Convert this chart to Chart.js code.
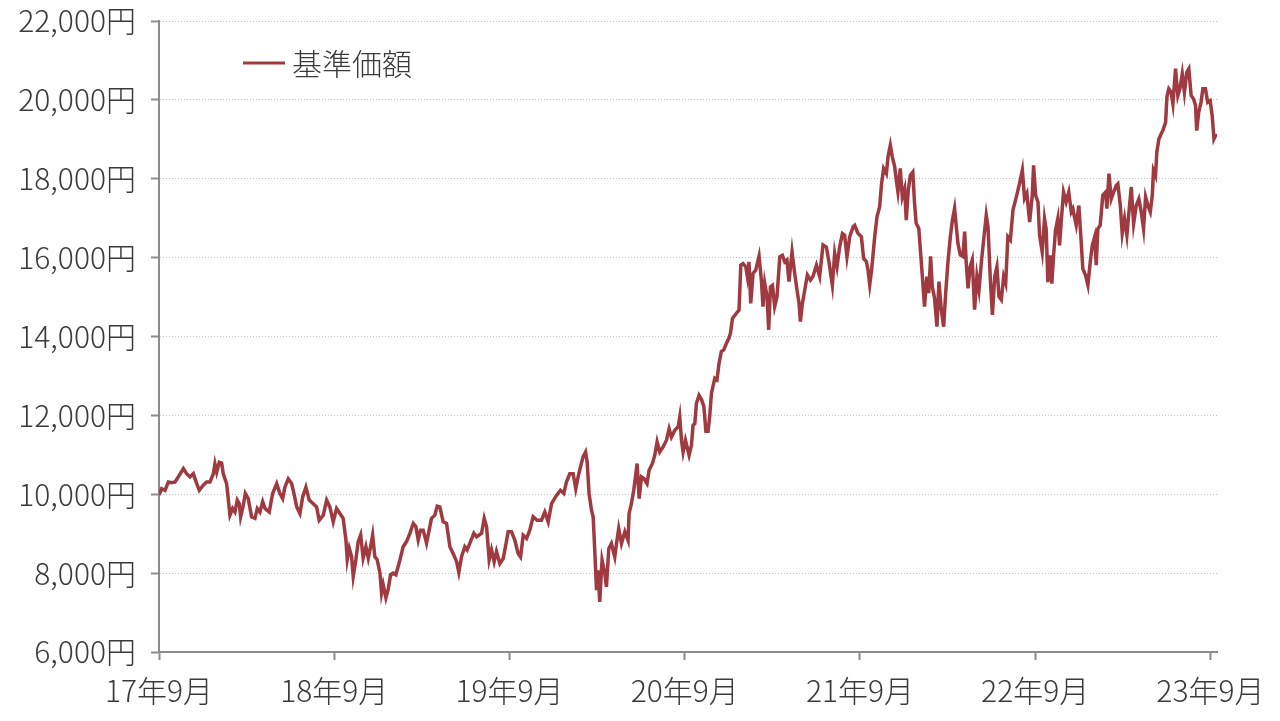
<!DOCTYPE html>
<html lang="ja">
<head>
<meta charset="utf-8">
<title>基準価額</title>
<script src="https://cdn.jsdelivr.net/npm/chart.js@4.4.1/dist/chart.umd.min.js"></script>
<style>
  html,body{margin:0;padding:0;background:#fff;}
  #wrap{width:1280px;height:721px;position:relative;}
</style>
</head>
<body>
<div id="wrap"><canvas id="nav"></canvas></div>
<script>
// ---- data: months since 17年9月 / 基準価額 (円) ----
const MONTHS = [
  0,0.18,0.41,0.64,0.87,1.10,1.32,1.67,1.89,2.12,2.35,2.58,2.76,3.03,3.26,3.49,3.72,3.83,3.95,4.13,
  4.29,4.40,4.63,4.75,4.86,5.04,5.20,5.36,5.50,5.59,5.77,5.91,6.11,6.34,6.57,6.73,6.91,7.10,7.26,7.55,
  7.78,8.06,8.28,8.47,8.62,8.85,9.08,9.24,9.43,9.65,9.84,10.06,10.29,10.56,10.79,10.97,11.25,11.48,11.70,
  11.93,12.16,12.39,12.61,12.80,12.89,13.03,13.19,13.30,13.48,13.64,13.81,13.98,14.17,14.33,14.49,14.63,14.78,14.94,
  15.13,15.24,15.35,15.54,15.69,15.86,16.04,16.22,16.50,16.72,16.95,17.18,17.41,17.59,17.75,17.91,18.09,18.32,18.50,
  18.66,18.89,19.05,19.23,19.46,19.69,19.92,20.14,20.38,20.53,20.72,20.94,21.10,21.29,21.56,21.75,22.09,22.27,22.43,
  22.61,22.77,22.95,23.11,
  23.34,23.57,23.68,23.91,24.14,24.37,24.59,24.76,24.94,25.17,25.39,25.62,25.89,26.19,26.42,26.65,26.88,27.22,27.49,
  27.72,27.90,28.13,28.36,28.54,28.70,28.86,29.04,29.21,29.32,29.45,29.62,29.73,29.84,29.96,30.07,30.18,30.34,30.53,
  30.64,30.80,30.98,31.21,31.33,31.48,31.67,31.90,32.12,32.19,32.35,32.51,32.74,32.88,33.04,33.20,33.42,33.56,33.79,
  33.95,34.11,34.29,34.52,34.75,34.93,35.09,35.32,35.55,35.66,35.78,35.89,36.05,36.30,36.46,36.57,36.69,36.80,36.98,
  37.15,37.31,37.45,37.60,37.71,37.83,38.06,38.21,38.35,38.51,38.67,38.86,39.03,39.13,39.27,39.54,39.72,39.84,39.99,
  40.18,40.29,40.40,40.52,40.68,40.86,41.09,41.25,41.36,41.48,41.64,41.75,41.87,42.01,42.16,42.32,42.51,42.69,42.85,
  43.00,43.14,43.35,43.53,43.69,43.83,43.92,44.06,44.22,44.40,44.61,44.78,45.02,45.24,45.47,45.70,45.88,46.11,46.27,
  46.43,46.61,46.80,46.95,47.11,47.30,47.53,47.64,
  47.86,48.10,48.25,48.44,48.55,48.67,48.80,49.01,49.17,49.35,49.47,49.62,49.81,49.92,50.08,50.22,50.38,50.49,50.60,
  50.76,50.90,51.06,51.17,51.31,51.45,51.62,51.74,51.85,52.03,52.19,52.30,52.42,52.58,52.71,52.84,52.95,53.11,53.27,
  53.41,53.57,53.73,53.87,54.02,54.19,54.33,54.48,54.60,54.71,54.87,55.05,55.17,55.28,55.40,55.55,55.69,55.85,56.01,
  56.15,56.31,56.47,56.65,56.77,56.93,57.07,57.23,57.38,57.52,57.68,57.84,57.98,58.13,58.30,58.48,58.71,58.93,59.12,
  59.27,59.43,
  59.62,59.80,59.89,60.03,60.19,60.30,60.48,60.64,60.75,60.87,61.03,61.14,61.26,61.39,61.55,61.67,61.78,61.94,62.12,
  62.30,62.47,62.58,62.69,62.81,62.99,63.15,63.26,63.45,63.61,63.77,63.91,64.07,64.18,64.29,64.45,64.63,64.82,64.91,
  65.05,65.21,65.37,65.55,65.66,65.83,65.96,66.12,66.28,66.46,66.58,66.74,66.92,67.10,67.26,67.42,67.56,67.72,67.88,
  68.02,68.10,68.24,68.33,68.47,68.63,68.74,68.93,69.02,69.15,69.31,69.43,69.61,69.77,69.93,70.07,70.22,70.38,70.52,
  70.68,70.84,70.98,71.06,71.20,71.36,71.48,71.66,71.81,71.98,72.12,72.24,72.40
];
const NAV = [
  9980,10140,10100,10310,10290,10310,10440,10650,10520,10440,10520,10270,10100,10230,10310,10310,10520,10770,10560,10810,
  10790,10520,10270,9850,9470,9640,9550,9850,9760,9430,9720,10020,9890,9430,9390,9640,9550,9810,9640,9550,
  10020,10270,10020,9890,10180,10390,10270,10020,9680,9510,9930,10180,9850,9760,9680,9340,9470,9850,9680,
  9300,9640,9510,9390,8840,8340,8630,8420,7920,8340,8800,8970,8380,8670,8380,8670,8970,8420,8340,
  8000,7500,7710,7370,7580,7960,8000,7960,8340,8670,8800,9010,9260,9180,8840,9090,9090,8760,9090,
  9390,9470,9700,9680,9300,9260,8670,8500,8290,8020,8420,8670,8590,8760,9010,8920,9010,9390,9180,
  8340,8590,8290,8550,
  8240,8370,8580,9050,9050,8830,8500,8410,8960,8880,9090,9430,9340,9340,9550,9300,9760,9970,10100,
  10020,10310,10520,10520,10140,10440,10690,10950,11070,10820,10020,9590,9430,8580,7570,8070,7270,8330,7990,
  7650,8620,8750,8410,8750,9130,8750,9050,8830,9510,9760,10100,10780,9890,10440,10400,10270,10610,10780,
  10990,11330,11070,11200,11370,11660,11450,11620,11710,11960,11370,11070,11370,10990,11240,11750,11790,12300,12510,
  12400,12230,11600,11600,11970,12560,12940,12900,13320,13620,13660,13830,13960,14080,14460,14590,14670,15810,15850,
  15770,15520,15890,14840,15600,15680,16040,15430,14760,15350,15010,14170,15260,15300,14760,15010,16020,16060,15890,
  15940,15390,16150,15600,15180,14840,14380,14840,15180,15560,15430,15520,15810,15520,16320,16270,15890,15300,16110,
  15770,16270,16610,16570,16020,16530,16780,16820,
  16620,16530,15980,15900,15690,15310,15690,16530,17040,17290,17840,18260,18130,18550,18850,18550,18300,17960,17670,
  18260,17540,17750,16950,17710,18090,18170,17370,16870,16740,15940,15390,14760,15520,15100,16030,15270,14970,14250,
  15390,14680,14250,15100,15860,16530,16950,17250,16780,16360,16070,16030,16660,15860,15220,15770,15940,14680,15520,
  15180,15860,16450,17080,16780,15440,14550,15520,15770,15010,14930,15520,15350,16530,16450,17210,17540,17880,18220,
  17500,17630,
  16900,17580,18340,17580,17410,16570,16140,16990,16730,15380,16060,15340,16060,16690,16990,16310,16900,17660,17410,
  17660,17160,17240,17030,16820,17320,16400,15720,15550,15300,15890,16310,16520,15810,16730,16820,17580,17660,17240,
  18130,17490,17660,17830,17870,17320,16610,16990,16570,17320,17790,16860,17320,17490,17160,16730,17540,17320,17160,
  17580,18210,18080,18680,19010,19140,19220,19430,20070,20280,20190,19900,20790,20110,20320,20660,20190,20700,20790,
  20110,20030,19860,19220,19690,19940,20280,20280,19940,19980,19600,19010,19140
];
const X_TICKS = [0, 12, 24, 36, 48, 60, 72];
const X_LABELS = ['17年9月','18年9月','19年9月','20年9月','21年9月','22年9月','23年9月'];
const Y_MIN = 6000, Y_MAX = 22000, Y_STEP = 2000;
const SERIES_NAME = '基準価額';

// ---- style ----
const LINE_COLOR = '#9f3a40';
const AXIS_COLOR = '#8c8c8c';
const TEXT_COLOR = '#3a3a3a';

Chart.defaults.font.family = '"Noto Sans CJK JP", "Noto Sans", sans-serif';
Chart.defaults.font.size = 30;
Chart.defaults.font.weight = 300;
Chart.defaults.color = TEXT_COLOR;

// legend drawn inside the plot, top-left
const insideLegend = {
  id: 'insideLegend',
  afterDraw(chart){
    const {ctx, chartArea} = chart;
    const ds = chart.data.datasets[0];
    const x = chartArea.left + 84, y = chartArea.top + 42;
    ctx.save();
    ctx.strokeStyle = ds.borderColor;
    ctx.lineWidth = 3;
    ctx.beginPath(); ctx.moveTo(x, y); ctx.lineTo(x + 42, y); ctx.stroke();
    ctx.fillStyle = TEXT_COLOR;
    ctx.font = '300 30px ' + Chart.defaults.font.family;
    ctx.textBaseline = 'middle';
    ctx.fillText(ds.label, x + 49, y + 1);
    ctx.restore();
  }
};

const points = MONTHS.map((m, i) => ({x: m, y: NAV[i]}));

new Chart(document.getElementById('nav'), {
  type: 'line',
  data: { datasets: [{
    label: SERIES_NAME, data: points,
    borderColor: LINE_COLOR, borderWidth: 3.5, pointRadius: 0, tension: 0, fill: false
  }]},
  options: {
    responsive: true, maintainAspectRatio: false, animation: false,
    layout: { padding: {top: 21, right: 63, bottom: 0, left: 0} },
    plugins: { legend: {display: false}, tooltip: {enabled: false} },
    scales: {
      x: {
        type: 'linear', min: 0, max: 72.45,
        afterBuildTicks: s => { s.ticks = X_TICKS.map(v => ({value: v})); },
        afterFit: s => { s.height = 69; },
        ticks: { padding: 13, maxRotation: 0, autoSkip: false,
          callback: v => X_LABELS[X_TICKS.indexOf(v)] },
        grid: { drawOnChartArea: false, drawTicks: true, tickLength: 8, tickColor: AXIS_COLOR, tickWidth: 2 },
        border: { display: true, color: AXIS_COLOR, width: 2 }
      },
      y: {
        min: Y_MIN, max: Y_MAX,
        // keep the label overflow from pushing the plot down
        afterFit: s => { s.width = 159; s.paddingTop = 0; s.paddingBottom = 0; },
        ticks: { stepSize: Y_STEP, padding: 15,
          callback: v => v.toLocaleString('en-US') + '円' },
        grid: { color: '#c2c2c2', lineWidth: 1, tickLength: 8, tickColor: AXIS_COLOR, tickWidth: 2 },
        border: { display: true, color: AXIS_COLOR, width: 2, dash: [1, 2] }
      }
    }
  },
  plugins: [insideLegend]
});
</script>
</body>
</html>
